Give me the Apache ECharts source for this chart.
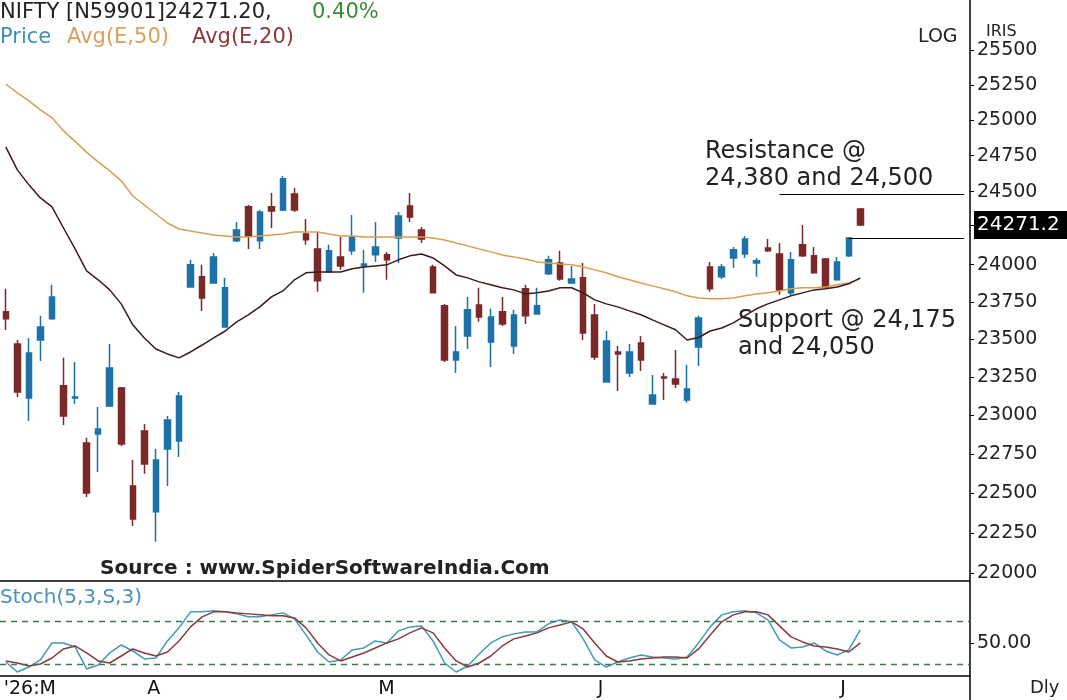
<!DOCTYPE html>
<html>
<head>
<meta charset="UTF-8">
<title>NIFTY Daily</title>
<style>
  html, body { margin: 0; padding: 0; background: #fff; }
  #chart { width: 1067px; height: 700px; }
</style>
<script src="https://cdn.jsdelivr.net/npm/echarts@6/dist/echarts.min.js"></script>
</head>
<body>
<div id="chart"></div>
<script>
  // daily candles: [open, close, low, high]
  var candles = [
    [23683, 23636, 23562, 23837], [23469, 23153, 23121, 23495], [23114, 23410, 22964, 23509],
    [23495, 23582, 23357, 23656], [23636, 23783, 23630, 23864], [23193, 22997, 22939, 23377],
    [23114, 23121, 23075, 23350], [22822, 22502, 22477, 22855], [22880, 22913, 22636, 23055],
    [23062, 23311, 23055, 23469], [23179, 22816, 22803, 23186], [22547, 22338, 22294, 22713],
    [22900, 22687, 22624, 22945], [22383, 22713, 22194, 22784], [22784, 22971, 22547, 22997],
    [22835, 23127, 22732, 23153], [23850, 23999, 23844, 24033], [23918, 23776, 23689, 23999],
    [23877, 24053, 23871, 24080], [23582, 23844, 23576, 23911], [24162, 24236, 24155, 24291],
    [24395, 24196, 24107, 24408], [24162, 24360, 24107, 24374], [24395, 24367, 24250, 24491],
    [24374, 24589, 24367, 24609], [24484, 24374, 24360, 24526], [24209, 24169, 24135, 24312],
    [24107, 23891, 23817, 24223], [23951, 24094, 23945, 24135], [24053, 23992, 23965, 24189],
    [24094, 24189, 24067, 24339], [23992, 24005, 23810, 24101], [24067, 24121, 24019, 24291],
    [24067, 24033, 23898, 24087], [24182, 24333, 24012, 24360], [24401, 24326, 24291, 24491],
    [24236, 24175, 24148, 24257], [23985, 23810, 23805, 23999], [23723, 23363, 23350, 23736],
    [23363, 23416, 23278, 23589], [23522, 23696, 23436, 23783], [23729, 23649, 23616, 23844],
    [23482, 23649, 23317, 23703], [23683, 23602, 23589, 23783], [23456, 23662, 23403, 23696],
    [23837, 23656, 23602, 23864], [23669, 23723, 23665, 23844], [23938, 24033, 23931, 24060],
    [24012, 23904, 23891, 24094], [23877, 23904, 23874, 23992], [23911, 23542, 23495, 24012],
    [23662, 23383, 23363, 23736], [23219, 23489, 23215, 23555], [23416, 23403, 23160, 23456],
    [23278, 23416, 23251, 23469], [23476, 23363, 23291, 23522], [23075, 23134, 23070, 23264],
    [23251, 23245, 23101, 23278], [23238, 23206, 23179, 23429], [23101, 23173, 23082, 23331],
    [23449, 23642, 23324, 23656], [23985, 23837, 23817, 24019], [23918, 23985, 23904, 24005],
    [24046, 24101, 23978, 24121], [24073, 24175, 24046, 24196], [24012, 24026, 23918, 24046],
    [24114, 24094, 24087, 24175], [24073, 23830, 23797, 24148], [23810, 24033, 23790, 24087],
    [24135, 24060, 24053, 24271], [24060, 23945, 23938, 24121], [24039, 23850, 23837, 24046],
    [23898, 24019, 23891, 24053], [24060, 24182, 24053, 24189], [24381, 24271.2, 24264, 24388]
  ];

  var ema50 = [
    25256, 25193, 25136, 25072, 25016, 24924, 24850, 24773, 24707, 24644,
    24575, 24470, 24408, 24346, 24284, 24243, 24230, 24216, 24202, 24196,
    24189, 24189, 24196, 24202, 24209, 24223, 24223, 24223, 24209, 24196,
    24196, 24189, 24189, 24189, 24189, 24189, 24189, 24182, 24168, 24148,
    24128, 24107, 24087, 24066, 24053, 24039, 24019, 24012, 24005, 23999,
    23985, 23965, 23945, 23918, 23898, 23877, 23857, 23837, 23817, 23790,
    23776, 23770, 23770, 23776, 23790, 23803, 23810, 23823, 23837, 23844,
    23844, 23850, 23864, 23877, 23904
  ];

  var ema20 = [
    24812, 24651, 24547, 24457, 24395, 24250, 24107, 23958, 23898, 23830,
    23736, 23596, 23509, 23436, 23403, 23377, 23416, 23462, 23509, 23555,
    23616, 23662, 23716, 23783, 23823, 23898, 23945, 23951, 23951, 23951,
    23972, 23985, 23992, 23999, 24033, 24060, 24073, 24046, 23992, 23931,
    23911, 23884, 23864, 23844, 23830, 23803, 23810, 23823, 23844, 23844,
    23810, 23763, 23736, 23716, 23689, 23663, 23629, 23596, 23563, 23495,
    23512, 23555, 23575, 23609, 23656, 23703, 23736, 23763, 23790, 23810,
    23830, 23837, 23850, 23871, 23911
  ];

  var stochK = [
    22.8, 8.7, 15.7, 25.7, 49.8, 49.8, 44.1, 13.0, 18.6, 35.6,
    46.9, 38.4, 27.1, 28.5, 52.6, 71.1, 93.8, 93.8, 95.2, 93.8,
    90.9, 86.7, 86.7, 89.5, 92.3, 83.8, 61.1, 37.0, 22.8, 25.7,
    39.9, 42.7, 52.6, 49.8, 66.8, 72.5, 73.9, 52.6, 21.4, 8.7,
    17.2, 34.2, 49.8, 58.3, 62.6, 65.4, 65.4, 76.7, 82.4, 79.6,
    55.5, 25.7, 15.7, 22.8, 28.5, 32.8, 29.9, 28.5, 27.1, 29.9,
    49.8, 72.5, 89.5, 93.8, 95.2, 92.3, 82.4, 54.0, 42.7, 44.1,
    49.8, 38.4, 32.8, 39.9, 68.2
  ];

  var stochD = [
    24.3, 21.4, 17.2, 20.0, 28.5, 41.3, 45.5, 35.6, 24.3, 21.4,
    31.3, 41.3, 35.6, 31.3, 37.0, 52.6, 72.5, 86.7, 93.8, 93.8,
    92.3, 90.9, 89.5, 88.1, 88.1, 85.2, 71.1, 49.8, 32.8, 24.3,
    29.9, 35.6, 42.7, 49.8, 55.5, 64.0, 71.1, 64.0, 42.7, 24.3,
    15.7, 21.4, 31.3, 45.5, 55.5, 59.7, 64.0, 71.1, 75.3, 79.6,
    69.6, 49.8, 31.3, 22.8, 24.3, 27.1, 28.5, 29.9, 29.9, 28.5,
    41.3, 61.1, 79.6, 89.5, 93.8, 93.8, 89.5, 73.9, 58.3, 51.2,
    45.5, 44.1, 41.3, 37.0, 49.8
  ];

  var monthIdx = [0, 12, 32, 51, 72];
  var monthText = ["'26:M", 'A', 'M', 'J', 'J'];
  var priceTicks = [22000, 22250, 22500, 22750, 23000, 23250, 23500, 23750, 24000,
                    24500, 24750, 25000, 25250, 25500];
  var lastClose = 24271.2;
  var resistance = 24480;
  var support = 24180;
  var slots = 84;

  var FONT = 'DejaVu Sans';
  var BULL = '#1c72a8';
  var BEAR = '#7b2828';

  var categories = [];
  for (var i = 0; i < slots; i++) categories.push(String(i));

  function txt(text, left, top, size, color, extra) {
    var st = { fontFamily: FONT, fontSize: size, color: color, fontWeight: 'normal', lineHeight: size + 3 };
    for (var k in extra) st[k] = extra[k];
    return { text: text, left: left, top: top, padding: 0, textStyle: st };
  }

  var chart = echarts.init(document.getElementById('chart'));

  var option = {
    animation: false,
    backgroundColor: '#fff',
    title: [
      txt('NIFTY [N59901]24271.20,', 0, 1, 21, '#222'),
      txt('0.40%', 312, 1, 21, '#3a8a3a'),
      txt('Price', 0, 26, 21, '#3d8fb8'),
      txt('Avg(E,50)', 67, 26, 21, '#d9a05a'),
      txt('Avg(E,20)', 192, 26, 21, '#8b3a3a'),
      txt('LOG', 918, 26, 19, '#222'),
      txt('IRIS', 986, 22, 16, '#222'),
      txt('Resistance @\n24,380 and 24,500', 705, 138, 24, '#222', { lineHeight: 27 }),
      txt('Support @ 24,175\nand 24,050', 738, 307, 24, '#222', { lineHeight: 27 }),
      txt('Source : www.SpiderSoftwareIndia.Com', 100, 557, 20, '#222', { fontWeight: 'bold' }),
      txt('Stoch(5,3,S,3)', 0, 586, 20, '#4a90b8'),
      txt('Dly', 1030, 678, 18, '#222')
    ],
    grid: [
      { left: 0, top: 0, width: 970, height: 581, outerBoundsMode: 'none', containLabel: false },
      { left: 0, top: 582, width: 970, height: 94, outerBoundsMode: 'none', containLabel: false }
    ],
    xAxis: [
      {
        type: 'category', gridIndex: 0, data: categories, boundaryGap: true,
        axisLine: { show: true, lineStyle: { color: '#000', width: 1.5 } },
        axisTick: { show: false }, axisLabel: { show: false }, splitLine: { show: false }
      },
      {
        type: 'category', gridIndex: 1, data: categories, boundaryGap: true,
        axisLine: { show: true, lineStyle: { color: '#000', width: 1.5 } },
        axisTick: { show: false }, splitLine: { show: false },
        axisLabel: {
          interval: function (idx) { return monthIdx.indexOf(idx) >= 0; },
          formatter: function (v, idx) {
            var k = monthIdx.indexOf(idx);
            return k === 0 ? '{f|' + monthText[k] + '}' : '{o|' + monthText[k] + '}';
          },
          align: 'left', margin: 4,
          rich: {
            f: { fontFamily: FONT, fontSize: 19, color: '#111', padding: [0, 0, 0, -2] },
            o: { fontFamily: FONT, fontSize: 19, color: '#111', padding: [0, 0, 0, 3] }
          }
        }
      }
    ],
    yAxis: [
      {
        type: 'log', gridIndex: 0, position: 'right', min: 21950, max: 25862,
        axisLine: { show: true, lineStyle: { color: '#000', width: 1.5 } },
        axisTick: { show: true, length: 4, customValues: priceTicks.concat([lastClose]), lineStyle: { color: '#000' } },
        splitLine: { show: false },
        axisLabel: {
          customValues: priceTicks.concat([lastClose]),
          margin: 4,
          formatter: function (v) {
            if (Math.abs(v - lastClose) < 0.5) return '{cur|' + lastClose.toFixed(1) + '}';
            return '{n|' + Math.round(v) + '}';
          },
          rich: {
            n: { fontFamily: FONT, fontSize: 19, color: '#222', padding: [0, 0, 0, 3] },
            cur: { fontFamily: FONT, fontSize: 20, color: '#fff', backgroundColor: '#000', padding: [4, 10, 4, 3] }
          }
        }
      },
      {
        type: 'value', gridIndex: 1, position: 'right', min: 3, max: 136,
        axisLine: { show: true, lineStyle: { color: '#000', width: 1.5 } },
        axisTick: { show: true, length: 4, customValues: [50], lineStyle: { color: '#000' } },
        splitLine: { show: false },
        axisLabel: {
          customValues: [50], margin: 7,
          fontFamily: FONT, fontSize: 19, color: '#222',
          formatter: function (v) { return v.toFixed(2); }
        }
      }
    ],
    graphic: [
      { type: 'line', shape: { x1: 970, y1: 676, x2: 970, y2: 700 }, style: { stroke: '#000', lineWidth: 1.5 } }
    ],
    series: [
      {
        type: 'candlestick', xAxisIndex: 0, yAxisIndex: 0, data: candles, barWidth: 6, z: 2,
        itemStyle: { color: BULL, color0: BEAR, borderColor: BULL, borderColor0: BEAR, borderColorDoji: BULL, borderWidth: 1.5 },
        markLine: {
          silent: true, symbol: ['none', 'none'], label: { show: false },
          lineStyle: { color: '#000', width: 1.2, type: 'solid' },
          data: [
            [{ coord: ['67', resistance] }, { coord: ['83', resistance] }],
            [{ coord: ['73', support] }, { coord: ['83', support] }]
          ]
        }
      },
      {
        type: 'line', xAxisIndex: 0, yAxisIndex: 0, data: ema50, symbol: 'none', z: 3,
        lineStyle: { color: '#d6a04e', width: 1.5 }
      },
      {
        type: 'line', xAxisIndex: 0, yAxisIndex: 0, data: ema20, symbol: 'none', z: 3,
        lineStyle: { color: '#3d1a1a', width: 1.5 }
      },
      {
        type: 'line', xAxisIndex: 1, yAxisIndex: 1, data: stochK, symbol: 'none', z: 3,
        lineStyle: { color: '#3f9cb2', width: 1.5 },
        markLine: {
          silent: true, symbol: ['none', 'none'], label: { show: false },
          lineStyle: { color: '#3d7a50', width: 1.3, type: [6, 5] },
          data: [{ yAxis: 80 }, { yAxis: 20 }]
        }
      },
      {
        type: 'line', xAxisIndex: 1, yAxisIndex: 1, data: stochD, symbol: 'none', z: 3,
        lineStyle: { color: '#8a3a3a', width: 1.5 }
      }
    ]
  };

  chart.setOption(option);
</script>
</body>
</html>
